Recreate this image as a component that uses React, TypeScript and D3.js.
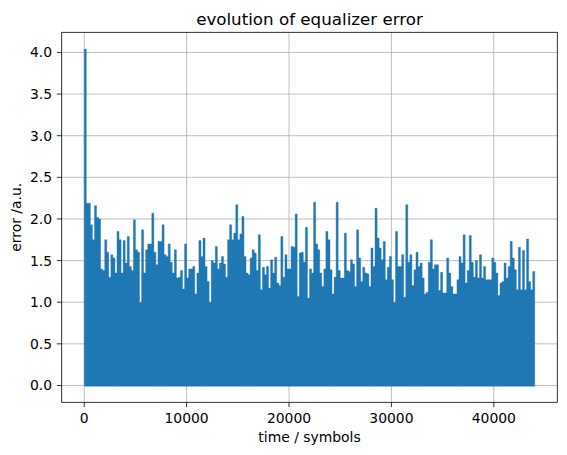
import React from "react";
import * as d3 from "d3";

const W = 567;
const H = 455;

// Sampling step (symbols) of the read-off envelope
const STEP = 200;
const TOTAL = 44000;

// Peak error per 200-symbol window
const peakErr = [
  4.04, 2.19, 2.19, 1.93, 1.75, 2.16, 2.02, 2.0, 1.4, 1.38,
  1.75, 1.6, 1.3, 1.57, 1.53, 1.35, 1.85, 1.75, 1.35, 1.74,
  1.47, 1.79, 1.43, 1.38, 1.99, 1.63, 1.6, 1.0, 1.87, 1.35,
  1.63, 1.7, 1.7, 2.07, 1.6, 1.45, 1.73, 1.73, 1.93, 1.57,
  1.55, 1.7, 1.48, 1.35, 1.63, 1.29, 1.3, 1.38, 1.16, 1.7,
  1.29, 1.4, 1.4, 1.43, 1.1, 1.35, 1.74, 1.55, 1.77, 1.43,
  1.25, 1.0, 1.5, 1.47, 1.67, 1.4, 1.47, 1.55, 1.46, 1.3,
  1.75, 1.93, 1.75, 1.83, 2.17, 1.75, 1.82, 2.03, 1.55, 1.35,
  1.33, 1.53, 1.63, 1.59, 1.38, 1.81, 1.15, 1.42, 1.33, 1.43,
  1.17, 1.51, 1.35, 1.54, 1.23, 1.2, 1.79, 1.3, 1.57, 1.4,
  1.4, 1.67, 1.66, 2.06, 1.07, 1.59, 1.6, 1.48, 1.9, 1.05,
  1.4, 1.35, 2.2, 1.7, 1.63, 1.35, 1.19, 1.4, 1.85, 1.75,
  1.39, 1.1, 1.3, 2.2, 1.38, 1.29, 1.29, 1.83, 1.38, 1.37,
  1.51, 1.46, 1.19, 1.87, 1.53, 1.25, 1.42, 1.35, 1.34, 1.19,
  1.65, 1.43, 2.13, 1.77, 1.65, 1.51, 1.73, 1.27, 1.42, 1.55,
  1.27, 1.0, 1.85, 1.43, 1.43, 1.57, 1.06, 2.17, 1.48, 1.57,
  1.2, 1.39, 1.6, 1.43, 1.47, 1.29, 1.1, 1.12, 1.48, 1.75,
  1.4, 1.45, 1.45, 1.14, 1.36, 1.11, 1.11, 1.53, 1.35, 1.19,
  1.1, 1.1, 1.27, 1.55, 1.47, 1.81, 1.23, 1.38, 1.8, 1.48,
  1.3, 1.5, 1.29, 1.57, 1.29, 1.43, 1.27, 1.27, 1.27, 1.53,
  1.48, 1.35, 1.08, 1.23, 1.25, 1.47, 1.29, 1.43, 1.73, 1.53,
  1.39, 1.15, 1.66, 1.15, 1.62, 1.15, 1.76, 1.25, 1.15, 1.37,
];
// Floor value of the signal (it reaches ~0 in every window)
const floorErr = 0;

const xTicks = [0, 10000, 20000, 30000, 40000];
const yTicks = [0, 0.5, 1.0, 1.5, 2.0, 2.5, 3.0, 3.5, 4.0];

const TITLE = "evolution of equalizer error";
const XLABEL = "time / symbols";
const YLABEL = "error /a.u.";

const FONT = "DejaVu Sans, sans-serif";

export default function App() {
  const left = 61.7;
  const right = 557.3;
  const top = 32.3;
  const bottom = 402.3;

  const maxV = d3.max(peakErr) as number;
  const yPad = maxV * 0.05;
  const xPad = TOTAL * 0.05;

  const x = d3.scaleLinear().domain([-xPad, TOTAL + xPad]).range([left, right]);
  const y = d3.scaleLinear().domain([-yPad, maxV + yPad]).range([bottom, top]);

  const pts: [number, number][] = peakErr.map((v, i) => [i * STEP, v]);
  pts.push([TOTAL, peakErr[peakErr.length - 1]]);

  const area = d3
    .area<[number, number]>()
    .curve(d3.curveStepAfter)
    .x((d) => x(d[0]))
    .y0(() => y(floorErr) + 0.75)
    .y1((d) => y(d[1]));

  const tickLen = 4.86;
  const pad = 4.86;
  const fs = 13.9;

  return (
    <svg
      width={W}
      height={H}
      style={{ position: "absolute", left: 0, top: 0, background: "#fff" }}
      fontFamily={FONT}
    >
      <rect x={0} y={0} width={W} height={H} fill="#fff" />
      {/* grid */}
      <g stroke="#b0b0b0" strokeWidth={0.8}>
        {xTicks.map((t) => (
          <line key={"gx" + t} x1={x(t)} x2={x(t)} y1={top} y2={bottom} />
        ))}
        {yTicks.map((t) => (
          <line key={"gy" + t} x1={left} x2={right} y1={y(t)} y2={y(t)} />
        ))}
      </g>
      <defs>
        <clipPath id="plotclip">
          <rect x={left} y={top} width={right - left} height={bottom - top} />
        </clipPath>
      </defs>
      <path
        d={area(pts) || ""}
        fill="#1f77b4"
        stroke="#1f77b4"
        strokeWidth={0.4}
        clipPath="url(#plotclip)"
      />
      {/* spines */}
      <rect
        x={left}
        y={top}
        width={right - left}
        height={bottom - top}
        fill="none"
        stroke="#000"
        strokeWidth={0.8}
      />
      {/* x ticks */}
      {xTicks.map((t) => (
        <g key={"xt" + t}>
          <line x1={x(t)} x2={x(t)} y1={bottom} y2={bottom + tickLen} stroke="#000" strokeWidth={0.8} />
          <text
            x={x(t)}
            y={bottom + tickLen + pad + 10.8}
            fontSize={fs}
            textAnchor="middle"
            fill="#000"
          >
            {String(t)}
          </text>
        </g>
      ))}
      {/* y ticks */}
      {yTicks.map((t) => (
        <g key={"yt" + t}>
          <line x1={left - tickLen} x2={left} y1={y(t)} y2={y(t)} stroke="#000" strokeWidth={0.8} />
          <text
            x={left - tickLen - pad}
            y={y(t) + 5}
            fontSize={fs}
            textAnchor="end"
            fill="#000"
          >
            {t.toFixed(1)}
          </text>
        </g>
      ))}
      <text
        x={(left + right) / 2}
        y={24.5}
        fontSize={16.7}
        textAnchor="middle"
        fill="#000"
      >
        {TITLE}
      </text>
      <text
        x={(left + right) / 2}
        y={442}
        fontSize={fs}
        textAnchor="middle"
        fill="#000"
      >
        {XLABEL}
      </text>
      <text
        transform={`translate(21,${(top + bottom) / 2}) rotate(-90)`}
        fontSize={fs}
        textAnchor="middle"
        fill="#000"
      >
        {YLABEL}
      </text>
    </svg>
  );
}
